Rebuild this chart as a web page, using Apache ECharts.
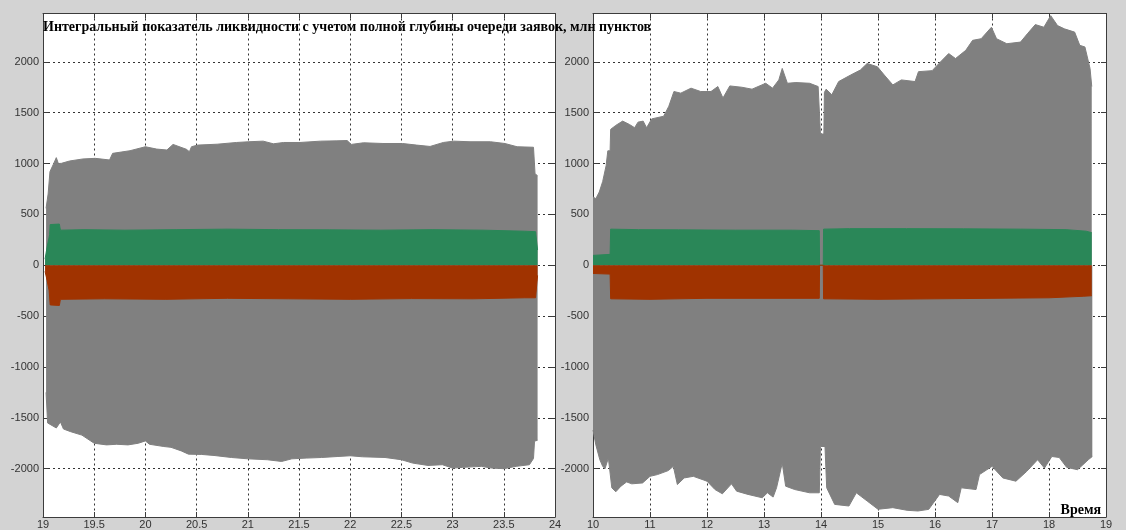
<!DOCTYPE html>
<html>
<head>
<meta charset="utf-8">
<script src="https://cdn.jsdelivr.net/npm/echarts@6/dist/echarts.min.js"></script>
<style>
html, body { margin: 0; padding: 0; background: #d3d3d3; }
#chart { width: 1126px; height: 530px; }
</style>
</head>
<body>
<div id="chart"></div>
<script>
// left panel (time 19..24)
var leftUpper = [[19.03, 560], [19.05, 700], [19.068, 920], [19.10, 990], [19.13, 1058], [19.15, 1000], [19.18, 1002],
    [19.26, 1025], [19.39, 1045], [19.51, 1051], [19.65, 1035], [19.68, 1100], [19.85, 1126], [20.0, 1165], [20.11, 1142],
    [20.21, 1133], [20.27, 1188], [20.40, 1140], [20.43, 1116], [20.45, 1165], [20.51, 1181], [20.70, 1190], [20.89, 1207],
    [21.01, 1214], [21.15, 1220], [21.25, 1194], [21.35, 1207], [21.51, 1207], [21.71, 1220], [21.87, 1223], [21.97, 1226],
    [22.01, 1188], [22.13, 1204], [22.32, 1197], [22.51, 1197], [22.65, 1181], [22.78, 1168], [22.91, 1207], [23.01, 1220],
    [23.17, 1214], [23.37, 1214], [23.51, 1197], [23.63, 1165], [23.79, 1160], [23.805, 900], [23.83, 880]];
var leftLower = [[19.03, -1250], [19.045, -1550], [19.05, -1560], [19.13, -1600], [19.17, -1540], [19.2, -1610], [19.27, -1636],
    [19.38, -1670], [19.5, -1750], [19.62, -1766], [19.72, -1760], [19.83, -1766], [19.93, -1750], [20.0, -1727], [20.04, -1760],
    [20.18, -1782], [20.25, -1790], [20.35, -1825], [20.42, -1857], [20.55, -1860], [20.67, -1870], [20.84, -1890], [21.0, -1903],
    [21.19, -1912], [21.33, -1929], [21.43, -1903], [21.57, -1896], [21.72, -1890], [21.88, -1880], [22.0, -1873], [22.12, -1883],
    [22.34, -1890], [22.5, -1912], [22.61, -1945], [22.76, -1968], [22.9, -1961], [23.0, -1994], [23.1, -1987], [23.28, -1977],
    [23.38, -1994], [23.5, -2000], [23.62, -1977], [23.75, -1961], [23.79, -1900], [23.80, -1730], [23.83, -1720]];
var leftGreen = [[19.02, 60], [19.04, 180], [19.065, 300], [19.07, 400], [19.16, 405], [19.17, 345], [19.4, 350], [19.8, 345],
    [20.3, 350], [20.8, 355], [21.3, 350], [21.8, 348], [22.3, 345], [22.8, 350], [23.3, 345], [23.7, 335], [23.81, 330], [23.83, 150]];
var leftRed = [[19.02, -60], [19.04, -150], [19.06, -250], [19.07, -390], [19.16, -395], [19.17, -335], [19.6, -330], [20.2, -335],
    [20.8, -325], [21.4, -330], [22.0, -335], [22.6, -328], [23.2, -330], [23.7, -320], [23.81, -320], [23.83, -100]];

// right panel (time 10..19)
var rightUpper = [[10.0, 671], [10.05, 655], [10.11, 720], [10.17, 824], [10.23, 979], [10.26, 1125], [10.30, 1125], [10.31, 1336],
    [10.40, 1375], [10.52, 1417], [10.64, 1384], [10.73, 1352], [10.79, 1407], [10.88, 1417], [10.94, 1352], [11.03, 1439],
    [11.24, 1465], [11.33, 1563], [11.42, 1708], [11.54, 1692], [11.72, 1741], [11.89, 1708], [12.07, 1708], [12.19, 1757],
    [12.28, 1644], [12.40, 1763], [12.61, 1750], [12.79, 1731], [13.03, 1789], [13.15, 1741], [13.26, 1822], [13.32, 1935],
    [13.41, 1789], [13.56, 1796], [13.80, 1789], [13.95, 1757], [13.98, 1757], [13.99, 1290], [14.05, 1290], [14.06, 1700],
    [14.09, 1731], [14.19, 1676], [14.31, 1806], [14.52, 1870], [14.69, 1919], [14.81, 1984], [14.99, 1951], [15.11, 1870],
    [15.26, 1773], [15.41, 1822], [15.65, 1806], [15.71, 1903], [15.95, 1913], [16.07, 1984], [16.24, 2081], [16.36, 2032],
    [16.54, 2113], [16.66, 2211], [16.81, 2227], [16.99, 2340], [17.08, 2227], [17.26, 2178], [17.50, 2194], [17.62, 2275],
    [17.76, 2366], [17.91, 2340], [18.03, 2454], [18.15, 2356], [18.27, 2324], [18.45, 2292], [18.54, 2162], [18.63, 2146],
    [18.72, 1935], [18.75, 1757]];
var rightLower = [[10.0, -1620], [10.05, -1766], [10.12, -1912], [10.17, -1977], [10.21, -2000], [10.27, -1896], [10.30, -1900],
    [10.33, -2188], [10.40, -2227], [10.49, -2172], [10.59, -2130], [10.68, -2149], [10.87, -2140], [11.0, -2075], [11.13, -2058],
    [11.32, -2019], [11.41, -1977], [11.48, -2156], [11.60, -2091], [11.76, -2075], [12.0, -2123], [12.14, -2205], [12.27, -2247],
    [12.43, -2149], [12.52, -2221], [12.72, -2253], [12.97, -2286], [13.06, -2237], [13.16, -2279], [13.22, -2188], [13.32, -1945],
    [13.38, -2172], [13.54, -2205], [13.80, -2237], [13.97, -2237], [13.99, -1782], [14.07, -1782], [14.10, -2188], [14.24, -2351],
    [14.49, -2367], [14.62, -2237], [14.81, -2318], [15.0, -2399], [15.26, -2383], [15.51, -2409], [15.70, -2416], [15.89, -2400],
    [16.08, -2253], [16.24, -2269], [16.40, -2334], [16.46, -2188], [16.72, -2205], [16.78, -2058], [17.0, -1977], [17.19, -2091],
    [17.42, -2123], [17.61, -2026], [17.80, -1912], [17.92, -1994], [18.05, -1880], [18.18, -1890], [18.31, -1987], [18.50, -2010],
    [18.69, -1912], [18.76, -1880]];
var rightGreen = [[10.0, 97], [10.30, 107], [10.31, 355], [10.8, 350], [11.5, 348], [12.5, 345], [13.5, 345], [13.97, 340],
    [13.975, 0], [14.04, 0], [14.045, 355], [14.5, 360], [15.5, 360], [16.5, 358], [17.5, 355], [18.3, 350], [18.65, 335], [18.75, 320]];
var rightRed = [[10.0, -81], [10.30, -87], [10.31, -330], [11, -335], [12, -325], [13, -325], [13.97, -325], [13.975, 0],
    [14.04, 0], [14.045, -330], [15, -335], [16, -330], [17, -325], [18, -320], [18.6, -305], [18.75, -300]];

var titleText = 'Интегральный показатель ликвидности с учетом полной глубины очереди заявок, млн пунктов';
var timeLabel = 'Время';

var GRAY = '#808080', GREEN = '#2a8758', RED = '#a03300';
var AX = '#3c3c3c';

function xAx(gi, pos, mn, mx, step, main) {
    return {
        type: 'value', gridIndex: gi, position: pos, min: mn, max: mx, interval: step,
        axisLine: { show: true, onZero: false, lineStyle: { color: AX } },
        axisTick: { show: true, inside: true, length: 5, lineStyle: { color: AX } },
        axisLabel: { show: main, color: '#333', fontSize: 11, fontFamily: 'Liberation Sans', margin: 2 },
        splitLine: { show: main, lineStyle: { color: '#333', type: [2, 3] } }
    };
}
function yAx(gi, pos, main) {
    return {
        type: 'value', gridIndex: gi, position: pos, min: -2475, max: 2475, splitNumber: 10,
        axisLine: { show: true, onZero: false, lineStyle: { color: AX } },
        axisTick: { show: true, inside: true, length: 5, lineStyle: { color: AX } },
        axisLabel: { show: main, color: '#333', fontSize: 11, fontFamily: 'Liberation Sans', margin: 4,
            showMinLabel: false, showMaxLabel: false,
            formatter: function (v) { return String(v); } },
        splitLine: { show: main, lineStyle: { color: '#333', type: [2, 3] } }
    };
}
function area(data, xi, yi, color) {
    return {
        type: 'line', data: data, xAxisIndex: xi, yAxisIndex: yi,
        symbol: 'none', silent: true, animation: false,
        lineStyle: { color: color, width: 1 },
        areaStyle: { color: color, opacity: 1 }
    };
}

var chart = echarts.init(document.getElementById('chart'));
chart.setOption({
    backgroundColor: '#d3d3d3',
    animation: false,
    title: {
        text: titleText, left: 43, top: 20, padding: 0,
        textStyle: { fontFamily: 'Liberation Serif', fontWeight: 'bold', fontSize: 14, color: '#000' }
    },
    grid: [
        { left: 43, top: 13.5, width: 512, height: 510, show: true, backgroundColor: '#fff', borderWidth: 0 },
        { left: 593, top: 13.5, width: 513, height: 510, show: true, backgroundColor: '#fff', borderWidth: 0 }
    ],
    xAxis: [
        xAx(0, 'bottom', 19, 24, 0.5, true), xAx(0, 'top', 19, 24, 0.5, false),
        xAx(1, 'bottom', 10, 19, 1, true), xAx(1, 'top', 10, 19, 1, false)
    ],
    yAxis: [
        yAx(0, 'left', true), yAx(0, 'right', false),
        yAx(1, 'left', true), yAx(1, 'right', false)
    ],
    graphic: [{
        type: 'text', right: 25, top: 503,
        style: { text: timeLabel, font: 'bold 14px "Liberation Serif"', fill: '#000' }
    }],
    series: [
        area(leftUpper, 0, 0, GRAY), area(leftLower, 0, 0, GRAY),
        area(leftGreen, 0, 0, GREEN), area(leftRed, 0, 0, RED),
        area(rightUpper, 2, 2, GRAY), area(rightLower, 2, 2, GRAY),
        area(rightGreen, 2, 2, GREEN), area(rightRed, 2, 2, RED)
    ]
});
</script>
</body>
</html>
